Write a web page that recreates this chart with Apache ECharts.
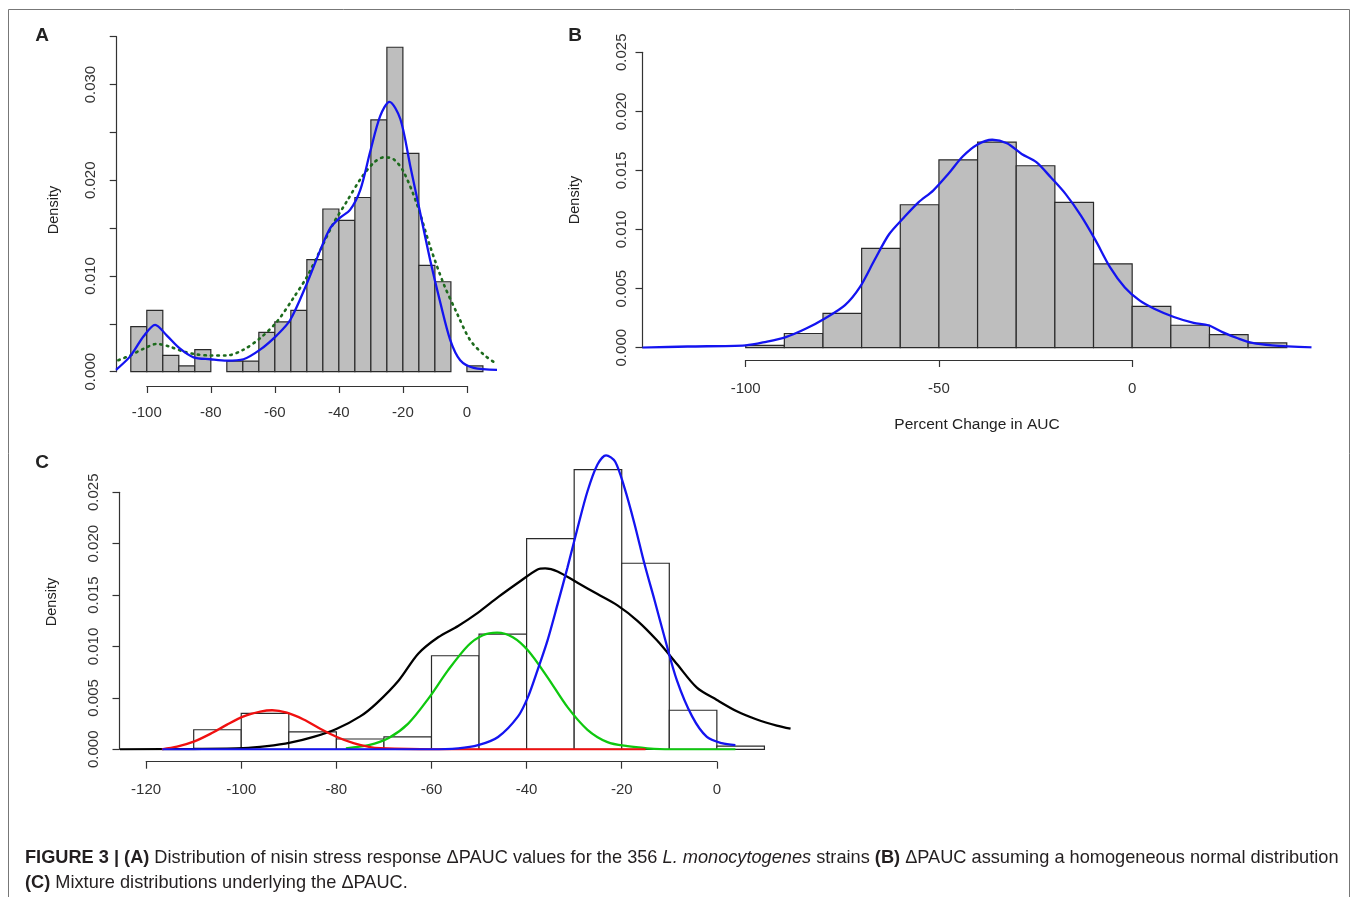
<!DOCTYPE html>
<html>
<head>
<meta charset="utf-8">
<title>Figure 3 - PAUC distributions</title>
<script src="https://cdn.jsdelivr.net/npm/echarts@6/dist/echarts.min.js"></script>
<style>
  html, body { margin: 0; padding: 0; background: #fff; }
  #chart { width: 1357px; height: 897px; }
</style>
</head>
<body>
<div id="chart"></div>
<script>
// ------------------------------------------------------------------
// Data
// ------------------------------------------------------------------
// Panel A: histogram (5-unit bins) + kernel density + smoother fit
const aBreaks = [-105, -100, -95, -90, -85, -80, -75, -70, -65, -60, -55, -50,
  -45, -40, -35, -30, -25, -20, -15, -10, -5, 0, 5]
const aDensity = [0.0047, 0.0064, 0.0017, 0.0006, 0.0023, 0, 0.0011, 0.0011,
  0.0041, 0.0052, 0.0064, 0.0117, 0.0170, 0.0158, 0.0182, 0.0263, 0.0339,
  0.0228, 0.0111, 0.0094, 0, 0.0006]
const aKdeX = [-109.6, -105.2, -101, -97.4, -93.8, -89.6, -85.4, -80.2, -75,
  -69.8, -64.6, -59.4, -55.2, -50, -45.8, -42.7, -39.6, -36.5, -33.3, -30.2,
  -27.1, -24.2, -20.8, -17.7, -14.6, -11.5, -8.3, -5.2, -2.1, 2.1, 9.4]
const aKdeY = [0.0002, 0.0016, 0.0037, 0.0049, 0.0038, 0.0024, 0.0015, 0.0013,
  0.00115, 0.0013, 0.0023, 0.0038, 0.0054, 0.0092, 0.0127, 0.0150, 0.0161,
  0.0169, 0.0190, 0.0230, 0.0267, 0.0282, 0.0264, 0.0215, 0.0166, 0.0117,
  0.0072, 0.0033, 0.0012, 0.0004, 0.0002]
const aFitX = [-108.9, -105.2, -101, -96.9, -92.7, -88.5, -84.4, -80.2, -75,
  -69.8, -64.6, -59.4, -54.2, -50, -45.8, -41.7, -37.5, -33.3, -29.2, -26,
  -22.9, -19.8, -15.6, -11.5, -7.3, -3.1, 1, 5.2, 8.9]
const aFitY = [0.0012, 0.0017, 0.0024, 0.0029, 0.0026, 0.0021, 0.0018, 0.0017,
  0.0017, 0.0023, 0.0035, 0.0052, 0.0077, 0.0099, 0.0127, 0.0155, 0.0178,
  0.0201, 0.0218, 0.0224, 0.0222, 0.0209, 0.0175, 0.0131, 0.0092, 0.0061,
  0.0033, 0.0018, 0.0009]
const aXTicks = [-100, -80, -60, -40, -20, 0]
const aYTicks = [0, 0.005, 0.010, 0.015, 0.020, 0.025, 0.030, 0.035]
const aYLabels = ['0.000', '', '0.010', '', '0.020', '', '0.030', '']

// Panel B: histogram (10-unit bins) + kernel density
const bBreaks = [-100, -90, -80, -70, -60, -50, -40, -30, -20, -10, 0, 10, 20, 30, 40]
const bDensity = [0.0002, 0.0012, 0.0029, 0.0084, 0.0121, 0.0159, 0.0174,
  0.0154, 0.0123, 0.0071, 0.0035, 0.0019, 0.0011, 0.0004]
const bKdeX = [-126.7, -115, -100, -94.7, -89.6, -84.5, -79.4, -74.3, -70.5,
  -66.7, -62.9, -59.1, -55.3, -51.5, -47.6, -43.8, -40, -36.2, -32.4, -28.6,
  -24.8, -21, -17.2, -13.3, -9.5, -5.7, -1.9, 1.9, 5.7, 10.8, 15.9, 19.7,
  23.5, 27.3, 31.1, 36.2, 46.4]
const bKdeY = [0, 0.0001, 0.0002, 0.0005, 0.0009, 0.0016, 0.0025, 0.0036,
  0.0051, 0.0074, 0.0096, 0.0110, 0.0123, 0.0133, 0.0147, 0.0162, 0.0172,
  0.0176, 0.0173, 0.0164, 0.0157, 0.0144, 0.0130, 0.0112, 0.0091, 0.0068,
  0.0051, 0.0040, 0.0033, 0.0026, 0.0021, 0.0019, 0.0013, 0.0008, 0.0004,
  0.0002, 0.00003]
const bXTicks = [-100, -50, 0]
const bYTicks = [0, 0.005, 0.010, 0.015, 0.020, 0.025]
const bYLabels = ['0.000', '0.005', '0.010', '0.015', '0.020', '0.025']

// Panel C: histogram (10-unit bins) + mixture components
const cBreaks = [-110, -100, -90, -80, -70, -60, -50, -40, -30, -20, -10, 0, 10]
const cDensity = [0.0019, 0.0035, 0.0017, 0.0010, 0.0012, 0.0091, 0.0112,
  0.0205, 0.0272, 0.0181, 0.0038, 0.0003]
const cMixX = [-125.5, -110, -99.6, -94.6, -89.7, -84.8, -79.9, -75, -71.5,
  -66.9, -62.8, -58.6, -54.4, -50.2, -46, -41.8, -37.7, -36.1, -33.5, -29.3,
  -25.1, -20.9, -16.7, -12.6, -8.4, -4.2, 0, 4.2, 8.4, 12.6, 15.5]
const cMixY = [0, 0.00003, 0.0001, 0.0003, 0.00064, 0.0012, 0.0020, 0.0032,
  0.0045, 0.0067, 0.0093, 0.0109, 0.0120, 0.0133, 0.0148, 0.0162, 0.0175,
  0.0176, 0.0173, 0.0162, 0.0151, 0.0140, 0.0125, 0.0106, 0.0083, 0.0060,
  0.0048, 0.0037, 0.0029, 0.0023, 0.0020]
const cRedX = [-116.7, -113.5, -110, -106.5, -103, -99.5, -96, -93.5, -90.4,
  -86.9, -83.4, -79.9, -76.4, -72.9, -70.8, -60, -50, -40, -30, -20, -15]
const cRedY = [0, 0.00025, 0.00074, 0.0015, 0.0024, 0.0032, 0.00366, 0.0038,
  0.00356, 0.0029, 0.0020, 0.0012, 0.0006, 0.0002, 0.0001, 0, 0, 0, 0, 0, 0]
const cGreenX = [-78, -73.2, -69, -64.9, -60.7, -56.5, -52.3, -49.2, -46.2,
  -42.9, -39.7, -35.6, -31.4, -27.2, -23, -18.8, -14.6, -10, 0, 3.9]
const cGreenY = [0.0001, 0.0004, 0.0011, 0.0025, 0.0049, 0.0077, 0.0101,
  0.0111, 0.01135, 0.0109, 0.0096, 0.0070, 0.0041, 0.0019, 0.0007, 0.0003,
  0.0001, 0, 0, 0]
const cBlueX = [-116.6, -100, -80, -60, -54.4, -50.2, -46, -41.8, -39.7, -37.7,
  -35.6, -33.5, -31.4, -29.3, -27.2, -25.1, -23.3, -21.4, -19.4, -17.3, -15.2,
  -13.1, -11, -8.4, -5.2, -2.1, 1, 3.9]
const cBlueY = [0, 0, 0, 0, 0.0001, 0.0004, 0.0012, 0.0032, 0.0051, 0.0077,
  0.0106, 0.0141, 0.0177, 0.0215, 0.0251, 0.0277, 0.0286, 0.0280, 0.0254,
  0.0219, 0.0180, 0.0145, 0.0109, 0.0067, 0.0032, 0.0012, 0.0006, 0.0004]
const cXTicks = [-120, -100, -80, -60, -40, -20, 0]
const cYTicks = [0, 0.005, 0.010, 0.015, 0.020, 0.025]
const cYLabels = ['0.000', '0.005', '0.010', '0.015', '0.020', '0.025']

// ------------------------------------------------------------------
// Styles
// ------------------------------------------------------------------
const FONT = '"Liberation Sans", Arial, sans-serif'
const INK = '#333'
const HIST_GREY = '#bebebe'

const gridBase = { containLabel: false, outerBoundsMode: 'none', show: false }
const axisLook = {
  axisLine: { show: true, lineStyle: { color: INK, width: 1.2 } },
  axisTick: { show: true, length: 7, lineStyle: { color: INK, width: 1.2 } },
  splitLine: { show: false },
}

const grids = []
const xAxes = []
const yAxes = []
const series = []

function tickLabel(ticks, labels) {
  return (v) => {
    let best = 0
    ticks.forEach((t, i) => {
      if (Math.abs(t - v) < Math.abs(ticks[best] - v)) best = i
    })
    return labels[best]
  }
}

// a panel = one data grid (hidden axes) + R-style detached x and y axes
function addPanel(p) {
  const sx = p.plot.width / (p.xRange[1] - p.xRange[0])
  const sy = p.plot.height / (p.yRange[1] - p.yRange[0])

  const gi = grids.length
  grids.push({ ...gridBase, ...p.plot })
  xAxes.push({ gridIndex: gi, type: 'value', min: p.xRange[0], max: p.xRange[1], show: false })
  yAxes.push({ gridIndex: gi, type: 'value', min: p.yRange[0], max: p.yRange[1], show: false })

  // x axis, spanning first..last tick only
  const xt = p.xTicks
  const xl = p.plot.left + (xt[0] - p.xRange[0]) * sx
  const xr = p.plot.left + (xt[xt.length - 1] - p.xRange[0]) * sx
  const gx = grids.length
  grids.push({ ...gridBase, left: xl, width: xr - xl, top: p.xAxisY - 10, height: 10 })
  xAxes.push({
    gridIndex: gx, type: 'value', position: 'bottom',
    min: xt[0], max: xt[xt.length - 1], interval: xt[1] - xt[0],
    ...axisLook,
    axisLabel: {
      color: INK, fontSize: 15, fontFamily: FONT, margin: p.xLabelMargin,
      showMinLabel: true, showMaxLabel: true,
      formatter: (v) => String(Math.round(v)),
    },
  })
  yAxes.push({ gridIndex: gx, type: 'value', show: false })

  // y axis, spanning first..last tick only
  const yt = p.yTicks
  const plotBottom = p.plot.top + p.plot.height
  const yb = plotBottom - (yt[0] - p.yRange[0]) * sy
  const ytop = plotBottom - (yt[yt.length - 1] - p.yRange[0]) * sy
  const gy = grids.length
  grids.push({ ...gridBase, left: p.plot.left, width: 10, top: ytop, height: yb - ytop })
  xAxes.push({ gridIndex: gy, type: 'value', show: false })
  yAxes.push({
    gridIndex: gy, type: 'value', position: 'left',
    min: yt[0], max: yt[yt.length - 1], interval: yt[1] - yt[0],
    ...axisLook,
    axisLabel: {
      color: INK, fontSize: 15, fontFamily: FONT, margin: p.yLabelMargin, rotate: 90,
      showMinLabel: true, showMaxLabel: true,
      formatter: tickLabel(yt, p.yLabels),
    },
  })
  return gi
}

function histSeries(gi, breaks, dens, fill) {
  return {
    type: 'custom', xAxisIndex: gi, yAxisIndex: gi, silent: true, z: 1,
    data: dens.map((d, i) => [breaks[i], breaks[i + 1], d]),
    encode: { x: [0, 1], y: 2 },
    renderItem(params, api) {
      const h = api.value(2)
      if (!h) return null
      const p0 = api.coord([api.value(0), h])
      const p1 = api.coord([api.value(1), 0])
      return {
        type: 'rect',
        shape: { x: p0[0], y: p0[1], width: p1[0] - p0[0], height: p1[1] - p0[1] },
        style: { fill, stroke: '#2a2a2a', lineWidth: 1.2 },
      }
    },
  }
}

function curveSeries(gi, xs, ys, color, extra) {
  return {
    type: 'line', xAxisIndex: gi, yAxisIndex: gi, silent: true,
    data: xs.map((x, i) => [x, ys[i]]),
    showSymbol: false, symbol: 'none', smooth: 0.3,
    lineStyle: { color, width: 2.3 },
    z: 3,
    ...extra,
  }
}

// ------------------------------------------------------------------
// Panels
// ------------------------------------------------------------------
const gA = addPanel({
  plot: { left: 116.7, top: 36.7, width: 380.3, height: 335 },
  xRange: [-109.4, 9.4], yRange: [0, 0.035], xAxisY: 386,
  xTicks: aXTicks, yTicks: aYTicks, yLabels: aYLabels,
  xLabelMargin: 19, yLabelMargin: 18,
})
const gB = addPanel({
  plot: { left: 642.5, top: 52.3, width: 669, height: 295.4 },
  xRange: [-126.7, 46.4], yRange: [0, 0.025], xAxisY: 360,
  xTicks: bXTicks, yTicks: bYTicks, yLabels: bYLabels,
  xLabelMargin: 21, yLabelMargin: 13,
})
const gC = addPanel({
  plot: { left: 119.5, top: 440.9, width: 670.6, height: 308.4 },
  xRange: [-125.6, 15.4], yRange: [0, 0.030], xAxisY: 761.7,
  xTicks: cXTicks, yTicks: cYTicks, yLabels: cYLabels,
  xLabelMargin: 21, yLabelMargin: 18,
})

series.push(
  histSeries(gA, aBreaks, aDensity, HIST_GREY),
  curveSeries(gA, aFitX, aFitY, '#1d6b1d', {
    lineStyle: { color: '#1d6b1d', width: 2.6, type: [1.5, 5], cap: 'round' },
  }),
  curveSeries(gA, aKdeX, aKdeY, '#1414f0', { z: 4 }),

  histSeries(gB, bBreaks, bDensity, HIST_GREY),
  curveSeries(gB, bKdeX, bKdeY, '#1414f0'),

  histSeries(gC, cBreaks, cDensity, '#ffffff'),
  curveSeries(gC, cMixX, cMixY, '#000000', { z: 3 }),
  curveSeries(gC, cGreenX, cGreenY, '#0fc80f', { z: 4 }),
  curveSeries(gC, cRedX, cRedY, '#f01010', { z: 5 }),
  curveSeries(gC, cBlueX, cBlueY, '#1414f0', { z: 6 }),
)

// ------------------------------------------------------------------
// Text: panel letters, axis titles, caption, frame
// ------------------------------------------------------------------
function label(x, y, text, font, rotation) {
  return {
    type: 'text', x, y, rotation: rotation || 0, silent: true,
    style: { text, font, fill: '#222', align: 'center', verticalAlign: 'middle' },
  }
}

const CAP = { fontSize: 18.2, fontFamily: FONT, fill: '#231f20', lineHeight: 25 }

const graphic = [
  {
    type: 'rect', silent: true,
    shape: { x: 8.5, y: 9.5, width: 1341, height: 900 },
    style: { fill: 'none', stroke: '#777', lineWidth: 1 },
  },
  label(42, 36, 'A', `bold 19px ${FONT}`),
  label(575, 36, 'B', `bold 19px ${FONT}`),
  label(42, 463, 'C', `bold 19px ${FONT}`),
  label(54, 210, 'Density', `14.5px ${FONT}`, Math.PI / 2),
  label(575, 200, 'Density', `14.5px ${FONT}`, Math.PI / 2),
  label(52, 602, 'Density', `14.5px ${FONT}`, Math.PI / 2),
  label(977, 425, 'Percent Change in AUC', `15.5px ${FONT}`),
  {
    type: 'text', x: 25, y: 845, silent: true,
    style: {
      text: '{b|FIGURE 3 | (A)} Distribution of nisin stress response \u0394PAUC values for the 356 {i|L. monocytogenes} strains {b|(B)} \u0394PAUC assuming a homogeneous normal distribution\n{b|(C)} Mixture distributions underlying the \u0394PAUC.',
      ...CAP, align: 'left', verticalAlign: 'top',
      rich: {
        b: { ...CAP, fontWeight: 'bold' },
        i: { ...CAP, fontStyle: 'italic' },
      },
    },
  },
]

// ------------------------------------------------------------------
// Chart
// ------------------------------------------------------------------
const chart = echarts.init(document.getElementById('chart'), null, { renderer: 'canvas' })
chart.setOption({
  animation: false,
  backgroundColor: '#ffffff',
  grid: grids,
  xAxis: xAxes,
  yAxis: yAxes,
  series,
  graphic,
})
window.addEventListener('resize', () => chart.resize())
</script>
</body>
</html>
